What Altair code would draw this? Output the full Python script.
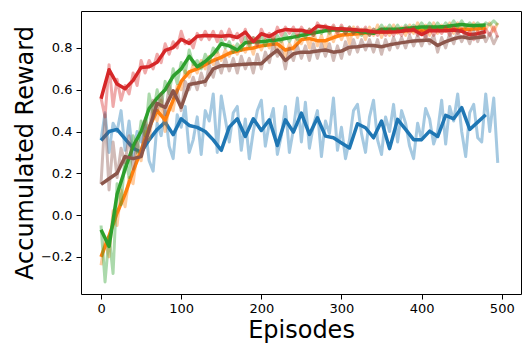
import altair as alt
import pandas as pd

episodes_raw = list(range(0, 500, 5))
episodes_smooth = list(range(0, 490, 10))

x_ticks = [0, 100, 200, 300, 400, 500]
y_ticks = [-0.2, 0.0, 0.2, 0.4, 0.6, 0.8]

blue_raw = [0.36, 0.49, 0.30, 0.44, 0.40, 0.50, 0.31, 0.45, 0.28, 0.40,
            0.35, 0.43, 0.26, 0.21, 0.44, 0.38, 0.50, 0.33, 0.27, 0.48,
            0.42, 0.52, 0.30, 0.36, 0.47, 0.29, 0.50, 0.45, 0.58, 0.30,
            0.57, 0.46, 0.35, 0.49, 0.52, 0.31, 0.46, 0.27, 0.40, 0.50,
            0.55, 0.33, 0.44, 0.51, 0.29, 0.38, 0.52, 0.30, 0.41, 0.56,
            0.35, 0.54, 0.32, 0.43, 0.50, 0.28, 0.45, 0.39, 0.56, 0.31,
            0.42, 0.27, 0.36, 0.50, 0.53, 0.39, 0.30, 0.47, 0.55, 0.36,
            0.29, 0.47, 0.40, 0.53, 0.35, 0.50, 0.44, 0.33, 0.27, 0.44,
            0.36, 0.51, 0.46, 0.34, 0.40, 0.55, 0.34, 0.52, 0.45, 0.58,
            0.40, 0.28, 0.49, 0.53, 0.37, 0.35, 0.58, 0.40, 0.56, 0.25]
blue_smooth = [0.357, 0.40, 0.41, 0.365, 0.32, 0.30, 0.36, 0.41, 0.445, 0.385,
               0.461, 0.429, 0.42, 0.40, 0.36, 0.31, 0.421, 0.461, 0.376, 0.461,
               0.405, 0.456, 0.333, 0.456, 0.397, 0.488, 0.386, 0.466, 0.378, 0.37,
               0.345, 0.321, 0.437, 0.418, 0.37, 0.45, 0.318, 0.458, 0.41, 0.361,
               0.361, 0.402, 0.376, 0.477, 0.461, 0.514, 0.41, 0.445, 0.48]

orange_raw = [-0.24, -0.12, -0.20, 0.02, -0.05, 0.12, 0.04, 0.18, 0.15, 0.30,
              0.26, 0.40, 0.36, 0.50, 0.45, 0.55, 0.40, 0.52, 0.50, 0.62,
              0.60, 0.69, 0.66, 0.72, 0.68, 0.74, 0.70, 0.76, 0.72, 0.78,
              0.74, 0.79, 0.76, 0.81, 0.77, 0.82, 0.78, 0.83, 0.77, 0.84,
              0.79, 0.84, 0.80, 0.85, 0.78, 0.84, 0.76, 0.82, 0.79, 0.86,
              0.82, 0.87, 0.80, 0.88, 0.81, 0.86, 0.80, 0.88, 0.83, 0.89,
              0.84, 0.89, 0.82, 0.90, 0.85, 0.89, 0.84, 0.90, 0.86, 0.91,
              0.85, 0.90, 0.86, 0.91, 0.87, 0.90, 0.86, 0.91, 0.87, 0.92,
              0.87, 0.91, 0.86, 0.92, 0.87, 0.91, 0.88, 0.92, 0.87, 0.92,
              0.88, 0.91, 0.87, 0.92, 0.88, 0.91, 0.89, 0.92, 0.88, 0.92]
orange_smooth = [-0.20, -0.10, 0.01, 0.10, 0.21, 0.31, 0.42, 0.50, 0.455, 0.55,
                 0.64, 0.685, 0.70, 0.72, 0.74, 0.755, 0.775, 0.785, 0.795, 0.80,
                 0.81, 0.815, 0.82, 0.79, 0.80, 0.84, 0.845, 0.835, 0.835, 0.85,
                 0.862, 0.865, 0.868, 0.872, 0.875, 0.877, 0.878, 0.88, 0.882, 0.884,
                 0.885, 0.885, 0.888, 0.888, 0.89, 0.89, 0.89, 0.892, 0.895]

green_raw = [-0.05, -0.32, -0.10, -0.28, 0.15, 0.05, 0.28, 0.18, 0.38, 0.30,
             0.45, 0.38, 0.58, 0.48, 0.60, 0.52, 0.64, 0.58, 0.70, 0.63,
             0.73, 0.68, 0.79, 0.72, 0.74, 0.70, 0.77, 0.73, 0.80, 0.78,
             0.84, 0.80, 0.83, 0.78, 0.82, 0.79, 0.85, 0.81, 0.85, 0.82,
             0.86, 0.81, 0.86, 0.82, 0.86, 0.83, 0.87, 0.83, 0.87, 0.84,
             0.88, 0.85, 0.89, 0.86, 0.89, 0.87, 0.90, 0.87, 0.90, 0.88,
             0.90, 0.87, 0.90, 0.87, 0.89, 0.86, 0.89, 0.86, 0.89, 0.88,
             0.91, 0.88, 0.91, 0.88, 0.91, 0.88, 0.91, 0.89, 0.91, 0.89,
             0.92, 0.89, 0.92, 0.89, 0.92, 0.89, 0.92, 0.90, 0.93, 0.90,
             0.93, 0.90, 0.92, 0.90, 0.92, 0.90, 0.92, 0.91, 0.93, 0.91]
green_smooth = [-0.07, -0.15, 0.10, 0.22, 0.33, 0.40, 0.51, 0.56, 0.60, 0.665,
                0.70, 0.76, 0.71, 0.735, 0.77, 0.82, 0.81, 0.79, 0.825, 0.83,
                0.83, 0.835, 0.838, 0.845, 0.852, 0.86, 0.868, 0.875, 0.882, 0.887,
                0.885, 0.884, 0.88, 0.875, 0.87, 0.89, 0.89, 0.89, 0.893, 0.897,
                0.90, 0.90, 0.90, 0.903, 0.908, 0.912, 0.908, 0.908, 0.91]

red_raw = [0.56, 0.47, 0.72, 0.52, 0.65, 0.55, 0.62, 0.58, 0.68, 0.62,
           0.74, 0.68, 0.74, 0.70, 0.77, 0.73, 0.82, 0.77, 0.83, 0.80,
           0.88, 0.82, 0.84, 0.80, 0.87, 0.84, 0.88, 0.84, 0.88, 0.83,
           0.88, 0.84, 0.89, 0.84, 0.87, 0.83, 0.89, 0.82, 0.85, 0.81,
           0.89, 0.85, 0.87, 0.84, 0.90, 0.86, 0.90, 0.87, 0.90, 0.86,
           0.90, 0.87, 0.89, 0.86, 0.92, 0.89, 0.91, 0.88, 0.91, 0.87,
           0.91, 0.87, 0.90, 0.87, 0.90, 0.87, 0.90, 0.86, 0.89, 0.86,
           0.89, 0.86, 0.89, 0.86, 0.89, 0.86, 0.90, 0.87, 0.90, 0.86,
           0.88, 0.85, 0.90, 0.86, 0.89, 0.87, 0.90, 0.86, 0.90, 0.87,
           0.89, 0.85, 0.88, 0.84, 0.88, 0.85, 0.89, 0.86, 0.90, 0.85]
red_smooth = [0.557, 0.696, 0.627, 0.605, 0.645, 0.707, 0.71, 0.732, 0.788, 0.802,
              0.842, 0.822, 0.856, 0.86, 0.858, 0.856, 0.86, 0.85, 0.876, 0.83,
              0.868, 0.855, 0.878, 0.888, 0.885, 0.885, 0.875, 0.905, 0.90, 0.893,
              0.892, 0.89, 0.886, 0.884, 0.878, 0.876, 0.877, 0.878, 0.884, 0.887,
              0.864, 0.884, 0.882, 0.882, 0.886, 0.88, 0.863, 0.868, 0.879]

brown_raw = [0.15, 0.48, 0.12, 0.35, 0.18, 0.32, 0.25, 0.38, 0.22, 0.35,
             0.28, 0.45, 0.40, 0.55, 0.50, 0.58, 0.48, 0.62, 0.56, 0.60,
             0.50, 0.64, 0.60, 0.66, 0.60, 0.68, 0.62, 0.72, 0.66, 0.74,
             0.68, 0.75, 0.69, 0.75, 0.68, 0.76, 0.70, 0.75, 0.68, 0.77,
             0.70, 0.78, 0.73, 0.82, 0.76, 0.79, 0.70, 0.80, 0.74, 0.81,
             0.75, 0.81, 0.74, 0.82, 0.75, 0.82, 0.76, 0.82, 0.74, 0.81,
             0.75, 0.83, 0.77, 0.84, 0.78, 0.84, 0.79, 0.84, 0.78, 0.84,
             0.77, 0.84, 0.79, 0.85, 0.80, 0.85, 0.80, 0.86, 0.81, 0.86,
             0.81, 0.86, 0.82, 0.86, 0.78, 0.85, 0.80, 0.87, 0.82, 0.88,
             0.83, 0.87, 0.82, 0.88, 0.83, 0.88, 0.83, 0.87, 0.82, 0.86]
brown_smooth = [0.147, 0.174, 0.20, 0.28, 0.27, 0.28, 0.41, 0.535, 0.515, 0.595,
                0.515, 0.625, 0.632, 0.64, 0.70, 0.715, 0.716, 0.72, 0.722, 0.724,
                0.724, 0.76, 0.79, 0.74, 0.772, 0.78, 0.78, 0.785, 0.79, 0.78,
                0.785, 0.804, 0.806, 0.812, 0.812, 0.806, 0.815, 0.822, 0.828, 0.833,
                0.836, 0.838, 0.812, 0.83, 0.844, 0.853, 0.846, 0.85, 0.855]

series = [
    ("blue", "#1f77b4", blue_raw, blue_smooth),
    ("orange", "#ff7f0e", orange_raw, orange_smooth),
    ("green", "#2ca02c", green_raw, green_smooth),
    ("red", "#d62728", red_raw, red_smooth),
    ("brown", "#8c564b", brown_raw, brown_smooth),
]

x_enc = alt.X(
    "ep:Q",
    scale=alt.Scale(domain=[-25, 524], nice=False, zero=False),
    axis=alt.Axis(values=x_ticks, title="Episodes", format="d",
                  titleX=220, titleY=43, titleAlign="center",
                  titleBaseline="alphabetic", labelPadding=3),
)
y_enc = alt.Y(
    "value:Q",
    scale=alt.Scale(domain=[-0.378, 0.977], nice=False, zero=False),
    axis=alt.Axis(values=y_ticks, title="Accumulated Reward", format=".1f",
                  titleX=-49, titleY=141.5, titleAlign="center",
                  titleBaseline="alphabetic", titleAngle=-90, labelPadding=4),
)

layers = []
for name, color, raw, sm in series:
    raw_df = pd.DataFrame({"ep": episodes_raw, "value": raw})
    sm_df = pd.DataFrame({"ep": episodes_smooth, "value": sm})
    layers.append(
        alt.Chart(raw_df).mark_line(color=color, opacity=0.4, strokeWidth=3,
                                    strokeJoin="round", clip=True)
        .encode(x=x_enc, y=y_enc)
    )
    layers.append(
        alt.Chart(sm_df).mark_line(color=color, strokeWidth=3.5,
                                   strokeJoin="round", clip=True)
        .encode(x=x_enc, y=y_enc)
    )

chart = (
    alt.layer(*layers)
    .properties(
        width=440,
        height=283,
        padding={"left": 73, "top": 3, "right": 3, "bottom": 52},
        autosize=alt.AutoSizeParams(type="none"),
    )
    .configure_view(stroke="#000000", strokeWidth=1)
    .configure_axis(
        grid=False,
        domain=False,
        tickColor="#000000",
        tickSize=5,
        tickWidth=1,
        labelColor="#000000",
        labelFont="DejaVu Sans",
        labelFontSize=13,
        titleFont="DejaVu Sans",
        titleFontSize=24,
        titleFontWeight="normal",
        titleColor="#000000",
    )
)

chart.save("out.html", embed_options={"renderer": "svg", "actions": False})
